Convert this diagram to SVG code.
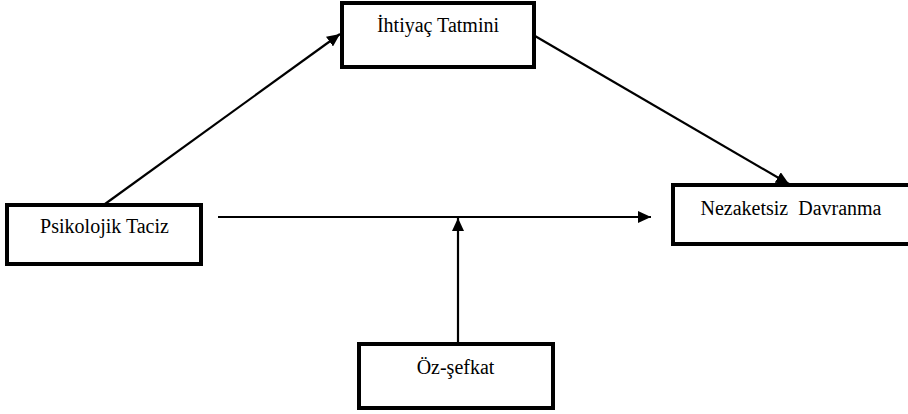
<svg xmlns="http://www.w3.org/2000/svg" width="908" height="414" viewBox="0 0 908 414">
  <style>
    .box { fill: #ffffff; stroke: #000000; stroke-width: 4; }
    .lbl { font-size: 20px; fill: #000000; text-anchor: middle; }
    .conn { stroke: #000000; stroke-width: 2.2; fill: none; marker-end: url(#arrow); }
  </style>
  <defs>
    <marker id="arrow" markerUnits="userSpaceOnUse" markerWidth="14" markerHeight="12" refX="13" refY="6" orient="auto">
      <path d="M0,0 L13,6 L0,12 z" fill="#000000"/>
    </marker>
  </defs>
  <rect width="908" height="414" fill="#ffffff"/>
  <g id="connectors">
    <line class="conn" x1="105" y1="204" x2="340" y2="34"/>
    <line class="conn" x1="535" y1="36" x2="789" y2="184"/>
    <line class="conn" x1="218" y1="217" x2="651" y2="217"/>
    <line class="conn" x1="458" y1="343" x2="458" y2="218"/>
  </g>
  <g font-family="'Liberation Serif', 'Times New Roman', 'DejaVu Serif', serif">
    <g id="node-ihtiyac">
      <rect class="box" x="342" y="3" width="192" height="64"/>
      <text class="lbl" x="438" y="32">İhtiyaç Tatmini</text>
    </g>
    <g id="node-psikolojik">
      <rect class="box" x="7" y="205" width="194" height="59"/>
      <text class="lbl" x="104.5" y="233">Psikolojik Taciz</text>
    </g>
    <g id="node-nezaketsiz">
      <rect class="box" x="673" y="185" width="250" height="59"/>
      <text class="lbl" x="791" y="215" xml:space="preserve">Nezaketsiz  Davranma</text>
    </g>
    <g id="node-ozsefkat">
      <rect class="box" x="359" y="344" width="194" height="64"/>
      <text class="lbl" x="455.5" y="374">Öz-şefkat</text>
    </g>
  </g>
</svg>
